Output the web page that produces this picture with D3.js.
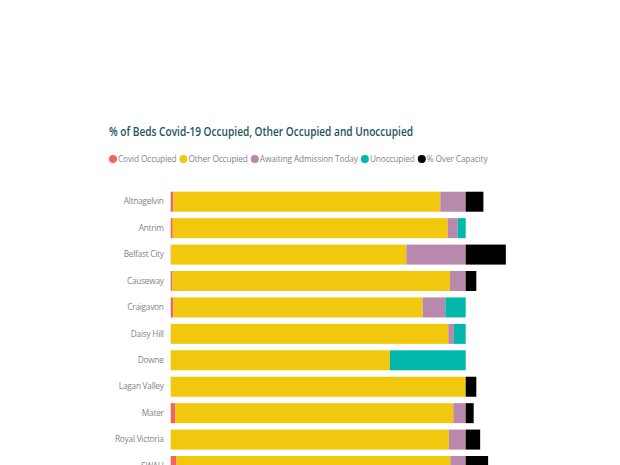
<!DOCTYPE html>
<html lang="en">
<head>
<meta charset="UTF-8">
<title>Beds occupancy</title>
<script src="https://cdnjs.cloudflare.com/ajax/libs/d3/7.8.5/d3.min.js"></script>
<style>
  body { margin: 0; background: #fff; }
  text { font-family: "Open Sans", "DejaVu Sans", sans-serif; }
</style>
</head>
<body>
<script>
    // hospitals, top to bottom
    const hospitals = ["Altnagelvin", "Antrim", "Belfast City", "Causeway", "Craigavon", "Daisy Hill",
        "Downe", "Lagan Valley", "Mater", "Royal Victoria", "SWAH"]

    // % values
    const covidOccupied = [0.9, 0.7, 0.2, 0.6, 0.9, 0, 0, 0, 1.6, 0, 2.0]
    const otherOccupied = [90.5, 93.2, 79.7, 94.1, 84.5, 94.1, 74.3, 100, 94.2, 94.3, 92.8]
    const awaitingAdmission = [8.6, 3.4, 20.1, 5.3, 7.7, 1.9, 0, 0, 4.2, 5.7, 5.2]
    const unoccupied = [0, 2.7, 0, 0, 6.9, 4.0, 25.7, 0, 0, 0, 0]
    const overCapacity = [6.0, 0, 13.6, 3.6, 0, 0, 0, 3.6, 2.7, 4.9, 7.6]

    const seriesNames = ["Covid Occupied", "Other Occupied", "Awaiting Admission Today", "Unoccupied", "% Over Capacity"]
    const seriesColors = ["#f3645c", "#f2c80f", "#b888ad", "#01b8aa", "#000000"]

    const width = 620
    const height = 465

    const svg = d3.select("body").append("svg")
        .attr("width", width)
        .attr("height", height)

    // title
    svg.append("text")
        .attr("x", 109)
        .attr("y", 136)
        .attr("fill", "#22535c")
        .attr("font-size", 12)
        .attr("font-weight", 600)
        .attr("textLength", 304)
        .attr("lengthAdjust", "spacingAndGlyphs")
        .text("% of Beds Covid-19 Occupied, Other Occupied and Unoccupied")

    // legend, laid out left to right
    let lx = 113
    seriesNames.forEach((name, i) => {
        let g = svg.append("g").attr("transform", `translate(${lx},159)`)
        g.append("circle").attr("r", 4).attr("fill", seriesColors[i])
        let t = g.append("text")
            .attr("x", 5)
            .attr("y", 3)
            .attr("font-size", 8.3)
            .attr("fill", "#858585")
            .attr("letter-spacing", -0.12)
            .text(name)
        lx += 5 + t.node().getComputedTextLength() + 7
    })

    const rows = hospitals.map((h, i) => ({
        name: h,
        "Covid Occupied": covidOccupied[i],
        "Other Occupied": otherOccupied[i],
        "Awaiting Admission Today": awaitingAdmission[i],
        "Unoccupied": unoccupied[i],
        "% Over Capacity": overCapacity[i]
    }))

    const stack = d3.stack().keys(seriesNames)(rows)

    const x = d3.scaleLinear().domain([0, 120]).range([170.7, 524.7])
    const y = d3.scaleBand().domain(hospitals).range([188.5, 188.5 + 26.43 * hospitals.length])
        .paddingInner(0.243).paddingOuter(0.1215)

    const color = d3.scaleOrdinal().domain(seriesNames).range(seriesColors)

    svg.append("g").selectAll("g")
        .data(stack)
        .join("g")
        .attr("fill", d => color(d.key))
        .selectAll("rect")
        .data(d => d)
        .join("rect")
        .attr("x", d => x(d[0]))
        .attr("y", d => y(d.data.name))
        .attr("width", d => x(d[1]) - x(d[0]))
        .attr("height", y.bandwidth())

    const yAxis = svg.append("g")
        .attr("transform", "translate(170.7,0)")
        .call(d3.axisLeft(y).tickSize(0).tickPadding(7))
    yAxis.select(".domain").remove()
    yAxis.selectAll("text")
        .attr("font-size", 8.3)
        .attr("fill", "#858585")
        .attr("letter-spacing", -0.25)
        .attr("font-family", "\"Open Sans\", sans-serif")
</script>
</body>
</html>
